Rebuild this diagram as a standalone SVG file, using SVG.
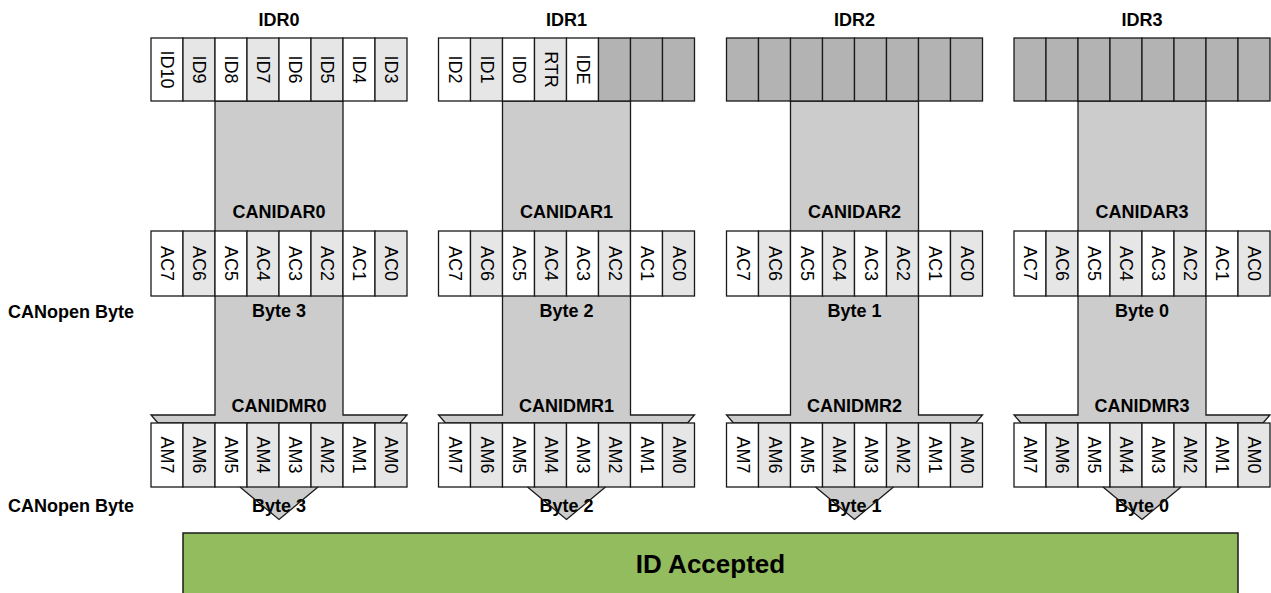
<svg xmlns="http://www.w3.org/2000/svg" width="1271" height="593" viewBox="0 0 1271 593">
<style>
.c{stroke:#1a1a1a;stroke-width:1.3}
.w{fill:#ffffff}
.l{fill:#e6e6e6}
.d{fill:#b3b3b3}
.col{fill:#cccccc;stroke:#1a1a1a;stroke-width:1.3;stroke-linejoin:miter}
.v{font-family:"Liberation Sans",Arial,sans-serif;font-size:18px;fill:#000;text-anchor:middle;dominant-baseline:central}
.b{font-family:"Liberation Sans",Arial,sans-serif;font-size:18px;font-weight:bold;fill:#000;text-anchor:middle}
.bl{font-family:"Liberation Sans",Arial,sans-serif;font-size:18px;font-weight:bold;fill:#000;text-anchor:start}
</style>
<defs>
<polygon id="col" class="col" points="64,101 192,101 192,415 256,415 249,423 7,423 0,415 64,415"/>
<polygon id="tipf" points="89,487 167,487 128,519.5" fill="#cccccc"/>
<polyline id="tips" points="89,487 128,519.5 167,487" fill="none" stroke="#1a1a1a" stroke-width="1.3"/>
</defs>

<!-- connectors: broad arrows -->
<g id="connectors">
<use href="#col" transform="translate(151,0)"/>
<use href="#col" transform="translate(438.5,0)"/>
<use href="#col" transform="translate(726.5,0)"/>
<use href="#col" transform="translate(1014,0)"/>
<use href="#tipf" transform="translate(151,0)"/>
<use href="#tipf" transform="translate(438.5,0)"/>
<use href="#tipf" transform="translate(726.5,0)"/>
<use href="#tipf" transform="translate(1014,0)"/>
</g>

<!-- row labels -->
<g id="row-labels">
<text class="bl" x="8" y="318">CANopen Byte</text>
<text class="bl" x="8" y="512">CANopen Byte</text>
</g>

<!-- Column 0 -->
<g id="idr0" transform="translate(151,0)">
<text class="b" x="128" y="26">IDR0</text>
<rect class="c w" x="0" y="38" width="32" height="63"/><rect class="c l" x="32" y="38" width="32" height="63"/>
<rect class="c w" x="64" y="38" width="32" height="63"/><rect class="c l" x="96" y="38" width="32" height="63"/>
<rect class="c w" x="128" y="38" width="32" height="63"/><rect class="c l" x="160" y="38" width="32" height="63"/>
<rect class="c w" x="192" y="38" width="32" height="63"/><rect class="c l" x="224" y="38" width="32" height="63"/>
<text class="v" transform="translate(16,69.5) rotate(90)">ID10</text>
<text class="v" transform="translate(48,69.5) rotate(90)">ID9</text>
<text class="v" transform="translate(80,69.5) rotate(90)">ID8</text>
<text class="v" transform="translate(112,69.5) rotate(90)">ID7</text>
<text class="v" transform="translate(144,69.5) rotate(90)">ID6</text>
<text class="v" transform="translate(176,69.5) rotate(90)">ID5</text>
<text class="v" transform="translate(208,69.5) rotate(90)">ID4</text>
<text class="v" transform="translate(240,69.5) rotate(90)">ID3</text>
</g>
<g id="canidar0" transform="translate(151,0)">
<text class="b" x="128" y="218">CANIDAR0</text>
<rect class="c w" x="0" y="231" width="32" height="65"/><rect class="c l" x="32" y="231" width="32" height="65"/>
<rect class="c w" x="64" y="231" width="32" height="65"/><rect class="c l" x="96" y="231" width="32" height="65"/>
<rect class="c w" x="128" y="231" width="32" height="65"/><rect class="c l" x="160" y="231" width="32" height="65"/>
<rect class="c w" x="192" y="231" width="32" height="65"/><rect class="c l" x="224" y="231" width="32" height="65"/>
<text class="v" transform="translate(16,263.5) rotate(90)">AC7</text>
<text class="v" transform="translate(48,263.5) rotate(90)">AC6</text>
<text class="v" transform="translate(80,263.5) rotate(90)">AC5</text>
<text class="v" transform="translate(112,263.5) rotate(90)">AC4</text>
<text class="v" transform="translate(144,263.5) rotate(90)">AC3</text>
<text class="v" transform="translate(176,263.5) rotate(90)">AC2</text>
<text class="v" transform="translate(208,263.5) rotate(90)">AC1</text>
<text class="v" transform="translate(240,263.5) rotate(90)">AC0</text>
<text class="b" x="128" y="317">Byte 3</text>
</g>
<g id="canidmr0" transform="translate(151,0)">
<text class="b" x="128" y="412">CANIDMR0</text>
<rect class="c w" x="0" y="423" width="32" height="64"/><rect class="c l" x="32" y="423" width="32" height="64"/>
<rect class="c w" x="64" y="423" width="32" height="64"/><rect class="c l" x="96" y="423" width="32" height="64"/>
<rect class="c w" x="128" y="423" width="32" height="64"/><rect class="c l" x="160" y="423" width="32" height="64"/>
<rect class="c w" x="192" y="423" width="32" height="64"/><rect class="c l" x="224" y="423" width="32" height="64"/>
<text class="v" transform="translate(16,455) rotate(90)">AM7</text>
<text class="v" transform="translate(48,455) rotate(90)">AM6</text>
<text class="v" transform="translate(80,455) rotate(90)">AM5</text>
<text class="v" transform="translate(112,455) rotate(90)">AM4</text>
<text class="v" transform="translate(144,455) rotate(90)">AM3</text>
<text class="v" transform="translate(176,455) rotate(90)">AM2</text>
<text class="v" transform="translate(208,455) rotate(90)">AM1</text>
<text class="v" transform="translate(240,455) rotate(90)">AM0</text>
<text class="b" x="128" y="512">Byte 3</text>
<use href="#tips"/>
</g>

<!-- Column 1 -->
<g id="idr1" transform="translate(438.5,0)">
<text class="b" x="128" y="26">IDR1</text>
<rect class="c w" x="0" y="38" width="32" height="63"/><rect class="c l" x="32" y="38" width="32" height="63"/>
<rect class="c w" x="64" y="38" width="32" height="63"/><rect class="c l" x="96" y="38" width="32" height="63"/>
<rect class="c w" x="128" y="38" width="32" height="63"/><rect class="c d" x="160" y="38" width="32" height="63"/>
<rect class="c d" x="192" y="38" width="32" height="63"/><rect class="c d" x="224" y="38" width="32" height="63"/>
<text class="v" transform="translate(16,69.5) rotate(90)">ID2</text>
<text class="v" transform="translate(48,69.5) rotate(90)">ID1</text>
<text class="v" transform="translate(80,69.5) rotate(90)">ID0</text>
<text class="v" transform="translate(112,69.5) rotate(90)">RTR</text>
<text class="v" transform="translate(144,69.5) rotate(90)">IDE</text>
</g>
<g id="canidar1" transform="translate(438.5,0)">
<text class="b" x="128" y="218">CANIDAR1</text>
<rect class="c w" x="0" y="231" width="32" height="65"/><rect class="c l" x="32" y="231" width="32" height="65"/>
<rect class="c w" x="64" y="231" width="32" height="65"/><rect class="c l" x="96" y="231" width="32" height="65"/>
<rect class="c w" x="128" y="231" width="32" height="65"/><rect class="c l" x="160" y="231" width="32" height="65"/>
<rect class="c w" x="192" y="231" width="32" height="65"/><rect class="c l" x="224" y="231" width="32" height="65"/>
<text class="v" transform="translate(16,263.5) rotate(90)">AC7</text>
<text class="v" transform="translate(48,263.5) rotate(90)">AC6</text>
<text class="v" transform="translate(80,263.5) rotate(90)">AC5</text>
<text class="v" transform="translate(112,263.5) rotate(90)">AC4</text>
<text class="v" transform="translate(144,263.5) rotate(90)">AC3</text>
<text class="v" transform="translate(176,263.5) rotate(90)">AC2</text>
<text class="v" transform="translate(208,263.5) rotate(90)">AC1</text>
<text class="v" transform="translate(240,263.5) rotate(90)">AC0</text>
<text class="b" x="128" y="317">Byte 2</text>
</g>
<g id="canidmr1" transform="translate(438.5,0)">
<text class="b" x="128" y="412">CANIDMR1</text>
<rect class="c w" x="0" y="423" width="32" height="64"/><rect class="c l" x="32" y="423" width="32" height="64"/>
<rect class="c w" x="64" y="423" width="32" height="64"/><rect class="c l" x="96" y="423" width="32" height="64"/>
<rect class="c w" x="128" y="423" width="32" height="64"/><rect class="c l" x="160" y="423" width="32" height="64"/>
<rect class="c w" x="192" y="423" width="32" height="64"/><rect class="c l" x="224" y="423" width="32" height="64"/>
<text class="v" transform="translate(16,455) rotate(90)">AM7</text>
<text class="v" transform="translate(48,455) rotate(90)">AM6</text>
<text class="v" transform="translate(80,455) rotate(90)">AM5</text>
<text class="v" transform="translate(112,455) rotate(90)">AM4</text>
<text class="v" transform="translate(144,455) rotate(90)">AM3</text>
<text class="v" transform="translate(176,455) rotate(90)">AM2</text>
<text class="v" transform="translate(208,455) rotate(90)">AM1</text>
<text class="v" transform="translate(240,455) rotate(90)">AM0</text>
<text class="b" x="128" y="512">Byte 2</text>
<use href="#tips"/>
</g>

<!-- Column 2 -->
<g id="idr2" transform="translate(726.5,0)">
<text class="b" x="128" y="26">IDR2</text>
<rect class="c d" x="0" y="38" width="32" height="63"/><rect class="c d" x="32" y="38" width="32" height="63"/>
<rect class="c d" x="64" y="38" width="32" height="63"/><rect class="c d" x="96" y="38" width="32" height="63"/>
<rect class="c d" x="128" y="38" width="32" height="63"/><rect class="c d" x="160" y="38" width="32" height="63"/>
<rect class="c d" x="192" y="38" width="32" height="63"/><rect class="c d" x="224" y="38" width="32" height="63"/>
</g>
<g id="canidar2" transform="translate(726.5,0)">
<text class="b" x="128" y="218">CANIDAR2</text>
<rect class="c w" x="0" y="231" width="32" height="65"/><rect class="c l" x="32" y="231" width="32" height="65"/>
<rect class="c w" x="64" y="231" width="32" height="65"/><rect class="c l" x="96" y="231" width="32" height="65"/>
<rect class="c w" x="128" y="231" width="32" height="65"/><rect class="c l" x="160" y="231" width="32" height="65"/>
<rect class="c w" x="192" y="231" width="32" height="65"/><rect class="c l" x="224" y="231" width="32" height="65"/>
<text class="v" transform="translate(16,263.5) rotate(90)">AC7</text>
<text class="v" transform="translate(48,263.5) rotate(90)">AC6</text>
<text class="v" transform="translate(80,263.5) rotate(90)">AC5</text>
<text class="v" transform="translate(112,263.5) rotate(90)">AC4</text>
<text class="v" transform="translate(144,263.5) rotate(90)">AC3</text>
<text class="v" transform="translate(176,263.5) rotate(90)">AC2</text>
<text class="v" transform="translate(208,263.5) rotate(90)">AC1</text>
<text class="v" transform="translate(240,263.5) rotate(90)">AC0</text>
<text class="b" x="128" y="317">Byte 1</text>
</g>
<g id="canidmr2" transform="translate(726.5,0)">
<text class="b" x="128" y="412">CANIDMR2</text>
<rect class="c w" x="0" y="423" width="32" height="64"/><rect class="c l" x="32" y="423" width="32" height="64"/>
<rect class="c w" x="64" y="423" width="32" height="64"/><rect class="c l" x="96" y="423" width="32" height="64"/>
<rect class="c w" x="128" y="423" width="32" height="64"/><rect class="c l" x="160" y="423" width="32" height="64"/>
<rect class="c w" x="192" y="423" width="32" height="64"/><rect class="c l" x="224" y="423" width="32" height="64"/>
<text class="v" transform="translate(16,455) rotate(90)">AM7</text>
<text class="v" transform="translate(48,455) rotate(90)">AM6</text>
<text class="v" transform="translate(80,455) rotate(90)">AM5</text>
<text class="v" transform="translate(112,455) rotate(90)">AM4</text>
<text class="v" transform="translate(144,455) rotate(90)">AM3</text>
<text class="v" transform="translate(176,455) rotate(90)">AM2</text>
<text class="v" transform="translate(208,455) rotate(90)">AM1</text>
<text class="v" transform="translate(240,455) rotate(90)">AM0</text>
<text class="b" x="128" y="512">Byte 1</text>
<use href="#tips"/>
</g>

<!-- Column 3 -->
<g id="idr3" transform="translate(1014,0)">
<text class="b" x="128" y="26">IDR3</text>
<rect class="c d" x="0" y="38" width="32" height="63"/><rect class="c d" x="32" y="38" width="32" height="63"/>
<rect class="c d" x="64" y="38" width="32" height="63"/><rect class="c d" x="96" y="38" width="32" height="63"/>
<rect class="c d" x="128" y="38" width="32" height="63"/><rect class="c d" x="160" y="38" width="32" height="63"/>
<rect class="c d" x="192" y="38" width="32" height="63"/><rect class="c d" x="224" y="38" width="32" height="63"/>
</g>
<g id="canidar3" transform="translate(1014,0)">
<text class="b" x="128" y="218">CANIDAR3</text>
<rect class="c w" x="0" y="231" width="32" height="65"/><rect class="c l" x="32" y="231" width="32" height="65"/>
<rect class="c w" x="64" y="231" width="32" height="65"/><rect class="c l" x="96" y="231" width="32" height="65"/>
<rect class="c w" x="128" y="231" width="32" height="65"/><rect class="c l" x="160" y="231" width="32" height="65"/>
<rect class="c w" x="192" y="231" width="32" height="65"/><rect class="c l" x="224" y="231" width="32" height="65"/>
<text class="v" transform="translate(16,263.5) rotate(90)">AC7</text>
<text class="v" transform="translate(48,263.5) rotate(90)">AC6</text>
<text class="v" transform="translate(80,263.5) rotate(90)">AC5</text>
<text class="v" transform="translate(112,263.5) rotate(90)">AC4</text>
<text class="v" transform="translate(144,263.5) rotate(90)">AC3</text>
<text class="v" transform="translate(176,263.5) rotate(90)">AC2</text>
<text class="v" transform="translate(208,263.5) rotate(90)">AC1</text>
<text class="v" transform="translate(240,263.5) rotate(90)">AC0</text>
<text class="b" x="128" y="317">Byte 0</text>
</g>
<g id="canidmr3" transform="translate(1014,0)">
<text class="b" x="128" y="412">CANIDMR3</text>
<rect class="c w" x="0" y="423" width="32" height="64"/><rect class="c l" x="32" y="423" width="32" height="64"/>
<rect class="c w" x="64" y="423" width="32" height="64"/><rect class="c l" x="96" y="423" width="32" height="64"/>
<rect class="c w" x="128" y="423" width="32" height="64"/><rect class="c l" x="160" y="423" width="32" height="64"/>
<rect class="c w" x="192" y="423" width="32" height="64"/><rect class="c l" x="224" y="423" width="32" height="64"/>
<text class="v" transform="translate(16,455) rotate(90)">AM7</text>
<text class="v" transform="translate(48,455) rotate(90)">AM6</text>
<text class="v" transform="translate(80,455) rotate(90)">AM5</text>
<text class="v" transform="translate(112,455) rotate(90)">AM4</text>
<text class="v" transform="translate(144,455) rotate(90)">AM3</text>
<text class="v" transform="translate(176,455) rotate(90)">AM2</text>
<text class="v" transform="translate(208,455) rotate(90)">AM1</text>
<text class="v" transform="translate(240,455) rotate(90)">AM0</text>
<text class="b" x="128" y="512">Byte 0</text>
<use href="#tips"/>
</g>

<!-- ID Accepted -->
<g id="id-accepted">
<rect x="183" y="533" width="1055" height="70" fill="#93bc5f" stroke="#1a1a1a" stroke-width="1.5"/>
<text x="710.5" y="573" font-family="'Liberation Sans',Arial,sans-serif" font-size="26" font-weight="bold" text-anchor="middle" fill="#000">ID Accepted</text>
</g>
</svg>
